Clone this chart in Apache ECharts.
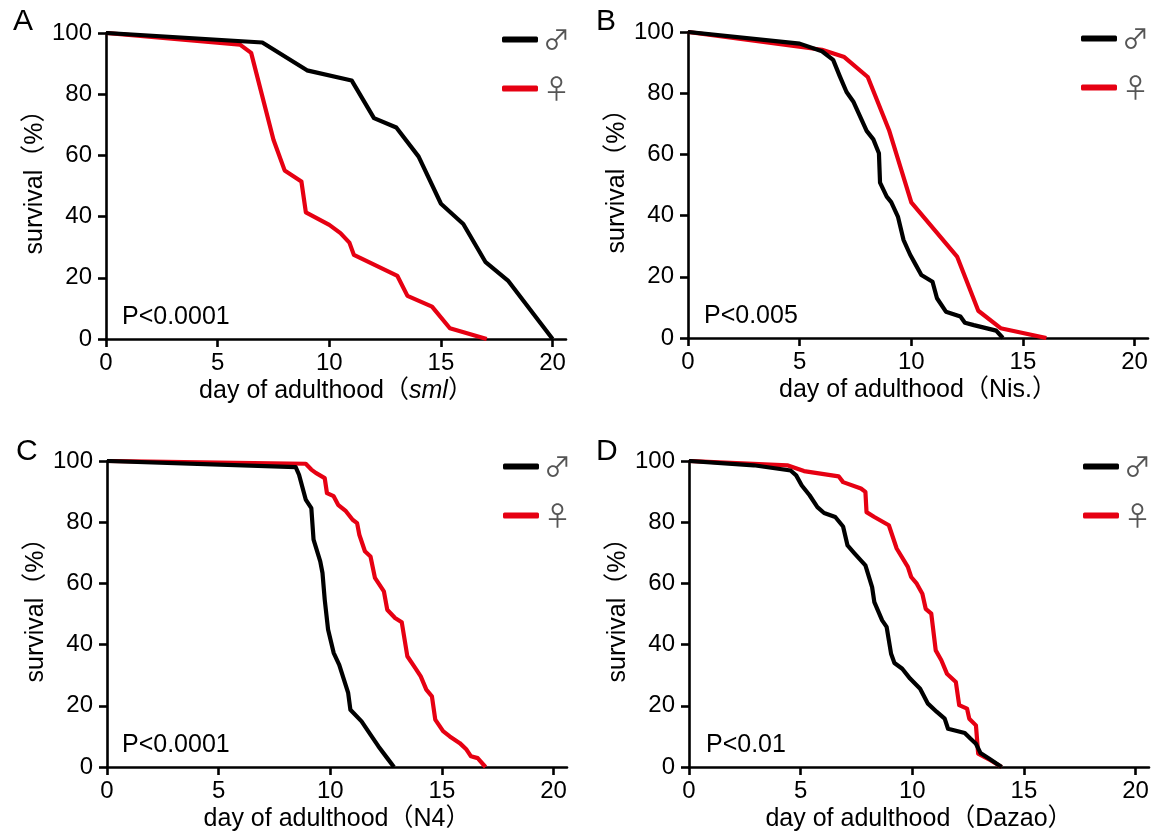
<!DOCTYPE html>
<html>
<head>
<meta charset="utf-8">
<script src="https://cdn.jsdelivr.net/npm/echarts@6/dist/echarts.min.js"></script>
<style>html,body{margin:0;padding:0;background:#fff}#c{width:1163px;height:835px}</style>
</head>
<body>
<div id="c"></div>
<script>
// ---- data: [day, survival %] ----
var aMale = [[0,100],[7.0,96.9],[9.0,87.8],[11.0,84.5],[12.0,72.2],[13.0,69.1],[14.0,59.6],[15.0,44.2],[16.0,37.6],[17.0,25.1],[18.0,19.1],[20.0,0]];
var aFemale = [[0,100],[6.0,96.2],[6.5,93.5],[7.5,65.1],[8.0,55.1],[8.75,51.5],[8.95,41.4],[10.0,37.3],[10.5,34.6],[10.9,31.5],[11.1,27.5],[13.05,20.6],[13.5,14.1],[14.6,10.6],[15.4,3.5],[17.05,0]];
var bMale = [[0,100],[5.0,96.2],[6.0,93.7],[6.5,90.9],[6.8,85.5],[7.1,80.4],[7.4,77.3],[8.0,67.7],[8.3,64.9],[8.55,60.4],[8.6,50.8],[8.9,46.2],[9.1,44.4],[9.4,39.7],[9.65,32.1],[9.95,27.2],[10.2,23.9],[10.45,20.6],[10.95,18.4],[11.15,13.0],[11.55,8.6],[12.2,7.0],[12.4,5.0],[12.8,4.2],[13.8,2.4],[14.1,0]];
var bFemale = [[0,100],[6.0,94.2],[7.0,91.8],[8.05,85.3],[9.0,68.0],[10.0,44.3],[12.05,26.6],[13.0,8.9],[14.0,3.2],[16.05,0]];
var cMale = [[0,100],[8.45,98.0],[8.6,95.5],[8.9,87.4],[9.15,84.6],[9.25,74.3],[9.55,67.2],[9.65,63.4],[9.75,54.7],[9.9,44.9],[10.15,37.3],[10.4,33.4],[10.8,24.2],[10.9,18.7],[11.4,14.9],[11.8,10.6],[12.15,6.8],[12.55,2.9],[12.85,0]];
var cFemale = [[0,100],[8.9,99.1],[9.15,97.2],[9.35,96.1],[9.75,94.4],[9.85,89.5],[10.15,88.5],[10.35,85.7],[10.7,83.6],[11.0,80.8],[11.2,79.7],[11.3,75.9],[11.55,70.5],[11.8,68.8],[12.0,61.8],[12.4,57.4],[12.55,51.4],[12.9,48.7],[13.2,47.3],[13.45,36.2],[13.8,32.4],[14.05,29.6],[14.3,25.3],[14.55,23.1],[14.7,15.5],[15.05,11.7],[15.35,10.0],[15.8,7.8],[16.1,5.7],[16.3,3.5],[16.6,2.9],[16.95,0]];
var dMale = [[0,100],[2.9,98.6],[4.55,96.9],[4.8,95.3],[5.05,92.0],[5.4,88.8],[5.75,84.9],[6.05,83.0],[6.55,81.7],[6.9,78.6],[7.1,72.4],[7.4,69.9],[7.9,65.9],[8.2,58.8],[8.3,53.9],[8.65,47.9],[8.85,45.8],[9.05,37.0],[9.2,34.0],[9.55,32.1],[9.9,28.9],[10.35,25.6],[10.7,20.7],[11.1,18.0],[11.45,15.8],[11.6,12.5],[12.35,11.1],[12.6,9.3],[12.85,7.6],[13.05,4.6],[13.45,2.7],[14.0,0]];
var dFemale = [[0,100],[4.4,98.6],[5.15,96.7],[6.7,95.0],[6.9,93.1],[7.7,91.0],[7.9,89.9],[7.95,83.3],[8.3,81.7],[8.95,79.0],[9.3,71.4],[9.8,65.4],[9.95,62.1],[10.2,59.9],[10.45,56.6],[10.6,51.7],[10.85,50.1],[11.05,38.1],[11.3,34.9],[11.55,30.5],[11.95,27.8],[12.1,20.2],[12.45,19.1],[12.55,15.8],[12.85,13.6],[12.95,4.4],[13.5,2.2],[14.0,0]];

var xTicks = [0, 5, 10, 15, 20];
var panelLetters = ['A', 'B', 'C', 'D'];
var strains = ['{it|sml}', 'Nis.', 'N4', 'Dazao'];
var pValues = ['P<0.0001', 'P<0.005', 'P<0.0001', 'P<0.01'];
var maleData = [aMale, bMale, cMale, dMale];
var femaleData = [aFemale, bFemale, cFemale, dFemale];
var seriesNames = ['\u2642', '\u2640'];

// ---- layout ----
var FONT = '"Liberation Sans", Arial, "Noto Sans CJK SC", sans-serif';
var grids = [
  {left: 106, top: 33, width: 460, height: 306},
  {left: 688, top: 32, width: 460, height: 306},
  {left: 107, top: 461, width: 460, height: 306},
  {left: 689, top: 461, width: 460, height: 306}
];
var legendPos = [[497, 21], [1076, 20], [498, 448], [1078, 448]];
var letterPos = [[13, 7], [596, 7], [16, 437], [596, 437]];
var pPos = [[122, 317], [704, 316], [122, 745], [706, 745]];
var RED = '#e60012', BLACK = '#000';

var option = {
  animation: false,
  backgroundColor: '#fff',
  grid: grids.map(function (g) { return Object.assign({containLabel: false}, g); }),
  xAxis: grids.map(function (g, i) {
    return {
      type: 'value', gridIndex: i, min: 0, max: 20.6,
      splitLine: {show: false},
      axisLine: {lineStyle: {color: '#000', width: 2.6}},
      axisTick: {show: true, customValues: xTicks, length: 8, lineStyle: {color: '#000', width: 2.6}},
      axisLabel: {customValues: xTicks, margin: 12, fontSize: 24, color: '#000', fontFamily: FONT},
      name: 'day of adulthood\uff08' + strains[i] + '\uff09',
      nameLocation: 'middle', nameGap: 40,
      nameTextStyle: {fontSize: 25, color: '#000', fontFamily: FONT,
        rich: {it: {fontStyle: 'italic', fontSize: 25, color: '#000', fontFamily: FONT}}}
    };
  }),
  yAxis: grids.map(function (g, i) {
    return {
      type: 'value', gridIndex: i, min: 0, max: 100, interval: 20,
      splitLine: {show: false},
      axisLine: {show: true, lineStyle: {color: '#000', width: 2.6}},
      axisTick: {show: true, length: 8, lineStyle: {color: '#000', width: 2.6}},
      axisLabel: {margin: 14, fontSize: 24, color: '#000', fontFamily: FONT},
      name: 'survival\uff08%\uff09',
      nameLocation: 'middle', nameGap: 50,
      nameTextStyle: {fontSize: 25, color: '#000', fontFamily: FONT, padding: [0, 0, 0, 20]}
    };
  }),
  legend: grids.map(function (g, i) {
    return {
      data: seriesNames, orient: 'vertical',
      left: legendPos[i][0], top: legendPos[i][1],
      icon: 'roundRect', itemWidth: 36, itemHeight: 6, itemGap: 22,
      textStyle: {fontSize: 27, color: '#555', fontFamily: '"Noto Sans CJK SC", "DejaVu Sans", sans-serif'},
      selectedMode: false
    };
  }),
  series: [],
  graphic: []
};

for (var i = 0; i < 4; i++) {
  option.series.push({
    type: 'line', name: seriesNames[0], xAxisIndex: i, yAxisIndex: i,
    data: maleData[i], showSymbol: false, symbol: 'none', z: 3,
    lineStyle: {color: BLACK, width: 4.2, join: 'round'}, itemStyle: {color: BLACK}
  });
  option.series.push({
    type: 'line', name: seriesNames[1], xAxisIndex: i, yAxisIndex: i,
    data: femaleData[i], showSymbol: false, symbol: 'none', z: 2,
    lineStyle: {color: RED, width: 4.2, join: 'round'}, itemStyle: {color: RED}
  });
  option.graphic.push({
    type: 'text', left: letterPos[i][0], top: letterPos[i][1],
    style: {text: panelLetters[i], fill: '#000', font: '30px ' + FONT}
  });
  option.graphic.push({
    type: 'text', x: pPos[i][0], y: pPos[i][1],
    style: {text: pValues[i], fill: '#000', font: '25px ' + FONT, verticalAlign: 'middle', align: 'left'}
  });
}

var chart = echarts.init(document.getElementById('c'), null, {renderer: 'canvas'});
chart.setOption(option);
</script>
</body>
</html>
